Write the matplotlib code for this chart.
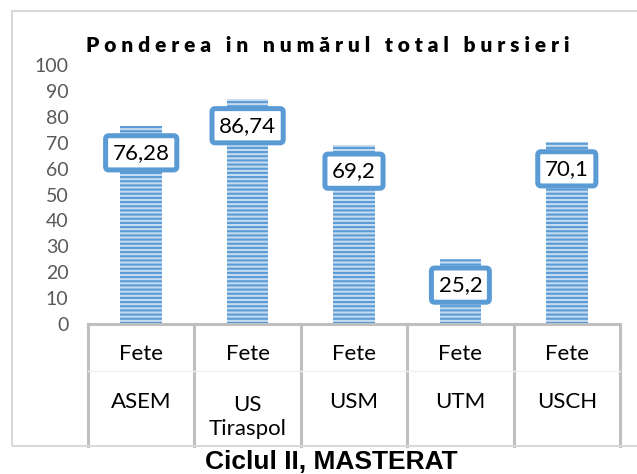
import matplotlib.pyplot as plt
from matplotlib.patches import Rectangle
from matplotlib import transforms

# date
universitati = ["ASEM", "US\nTiraspol", "USM", "UTM", "USCH"]
grup = ["Fete", "Fete", "Fete", "Fete", "Fete"]
valori = [76.28, 86.74, 69.2, 25.2, 70.1]
yticks = list(range(0, 101, 10))

titlu = "Ponderea in numărul total bursieri"
subtitlu = "Ciclul II, MASTERAT"

albastru = "#5b9bd5"
gri = "#bfbfbf"

plt.rcParams['font.family'] = ['Lato', 'DejaVu Sans']
plt.rcParams['hatch.linewidth'] = 1.5

W, H = 637, 474
fig = plt.figure(figsize=(W / 100, H / 100), dpi=100)

# chenarul graficului
fig.patches.append(Rectangle((12 / W, 1 - 446 / H), 700 / W, 435 / H,
                             transform=fig.transFigure, fill=False,
                             edgecolor="#d9d9d9", linewidth=1.5))

ax = fig.add_axes([88 / W, 150 / H, 532 / W, 259 / H])
x = range(len(valori))
ax.bar(x, valori, width=0.39, color="#c5dcf0", edgecolor=albastru,
       linewidth=0, hatch="----")

for i, v in enumerate(valori):
    ax.annotate(str(v).replace(".", ","), (i, v), xytext=(0, -19),
                textcoords="offset points", ha="center", va="center",
                fontsize=16, color="black",
                bbox=dict(boxstyle="round,pad=0.32,rounding_size=0.15",
                          facecolor="white", edgecolor=albastru, linewidth=3.6))

ax.set_xlim(-0.5, len(valori) - 0.5)
ax.set_ylim(0, 100)
ax.set_yticks(yticks)
ax.tick_params(axis="y", length=0, pad=14, labelsize=14, labelcolor="#595959")
ax.set_xticks([])
for s in ["left", "right", "top"]:
    ax.spines[s].set_visible(False)
ax.spines["bottom"].set_color(gri)
ax.spines["bottom"].set_linewidth(2.2)

# casetele categoriilor
tr = transforms.blended_transform_factory(ax.transData, ax.transAxes)
for k in range(len(valori) + 1):
    ax.plot([k - 0.5, k - 0.5], [0, -0.471], color=gri, lw=2.2,
            transform=tr, clip_on=False)
ax.plot([-0.5, len(valori) - 0.5], [-0.181, -0.181], color="#f0f0f0", lw=1,
        transform=tr, clip_on=False)
for i in range(len(valori)):
    ax.text(i, -0.116, grup[i], transform=tr, ha="center", va="center",
            fontsize=16)
    y = -0.359 if "\n" in universitati[i] else -0.301
    ax.text(i, y, universitati[i], transform=tr, ha="center", va="center",
            fontsize=16, linespacing=1.25)

spatiat = "   ".join(" ".join(c for c in w) for w in titlu.split())
fig.text(328 / W, 1 - 45 / H, spatiat, ha="center", va="center",
         fontsize=15, fontweight="heavy")
fig.text(331 / W, 1 - 462 / H, subtitlu, ha="center", va="center",
         fontsize=19, fontweight="bold", family="Liberation Sans")

fig.savefig("out.png", dpi=100)
